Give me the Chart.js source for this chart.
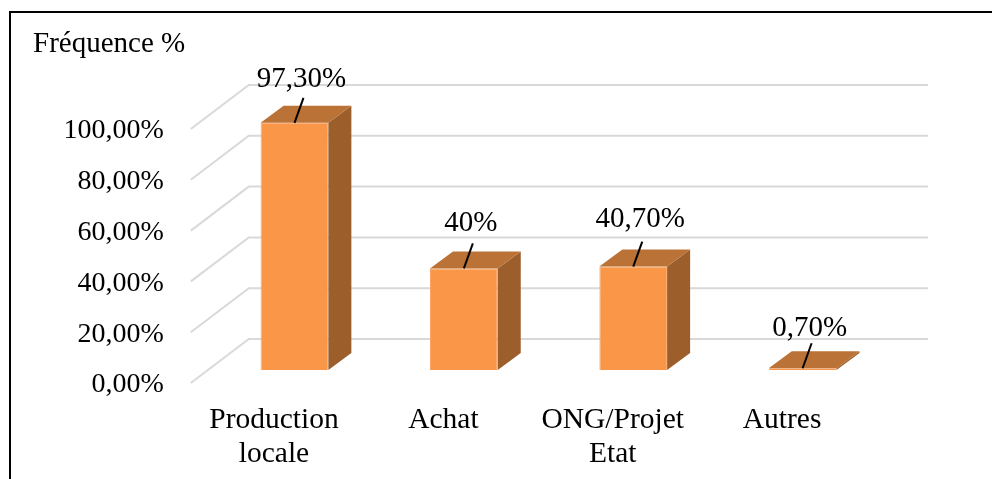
<!DOCTYPE html>
<html lang="fr">
<head>
    <meta charset="UTF-8">
    <title>Fréquence %</title>
    <style>
        html, body { margin: 0; padding: 0; background: #fff; }
        body { width: 992px; height: 479px; overflow: hidden; position: relative; }
        #frame {
            position: absolute;
            left: 9px; top: 11px;
            width: 990px; height: 480px;
            border-left: 2px solid #000;
            border-top: 2px solid #000;
        }
        #yTitle {
            position: absolute;
            left: 33px; top: 26px;
            font: 29px "Liberation Serif", serif;
            color: #000;
        }
        #chartBox { position: absolute; left: 0; top: 0; width: 992px; height: 479px; }
    </style>
</head>
<body>
<div id="frame"></div>
<div id="chartBox"><canvas id="myChart" width="992" height="479"></canvas></div>
<div id="yTitle">Fréquence %</div>

<script src="https://cdn.jsdelivr.net/npm/chart.js"></script>
<script>
    const categories = [['Production', 'locale'], 'Achat', ['ONG/Projet', 'Etat'], 'Autres'];
    const frequences = [97.3, 40, 40.7, 0.7];
    const valueLabels = ['97,30%', '40%', '40,70%', '0,70%'];
    const yTicks = [0, 20, 40, 60, 80, 100];

    const serif = '"Liberation Serif", serif';

    // extrusion of the bars, and of the chart floor behind / in front of them
    const barDepth = { x: 23, y: 17 };
    const wall = { x: 39, y: 31, right: 928 };
    const floorFront = { x: 19, y: 13 };
    // value labels were placed by hand in the original, so they don't sit evenly
    const labelGap = [43, 45, 47, 40];

    const fake3d = {
        id: 'fake3d',
        beforeDatasetsDraw(chart) {
            const ctx = chart.ctx;
            const y = chart.scales.y;
            const left = chart.scales.x.left;
            ctx.save();
            ctx.strokeStyle = '#d9d9d9';
            ctx.lineWidth = 2;
            yTicks.forEach(v => {
                const py = y.getPixelForValue(v);
                ctx.beginPath();
                ctx.moveTo(left - floorFront.x, py + floorFront.y);
                ctx.lineTo(left + wall.x, py - wall.y);
                ctx.lineTo(wall.right, py - wall.y);
                ctx.stroke();
            });
            ctx.restore();
        },
        afterDatasetsDraw(chart) {
            const ctx = chart.ctx;
            const bars = chart.getDatasetMeta(0).data;
            ctx.save();
            bars.forEach((bar, i) => {
                const l = bar.x - bar.width / 2;
                const r = bar.x + bar.width / 2;
                // side
                ctx.fillStyle = '#9c5f2c';
                ctx.beginPath();
                ctx.moveTo(r, bar.y);
                ctx.lineTo(r + barDepth.x, bar.y - barDepth.y);
                ctx.lineTo(r + barDepth.x, bar.base - barDepth.y);
                ctx.lineTo(r, bar.base);
                ctx.closePath();
                ctx.fill();
                // top
                ctx.fillStyle = '#bb7236';
                ctx.beginPath();
                ctx.moveTo(l, bar.y);
                ctx.lineTo(l + barDepth.x, bar.y - barDepth.y);
                ctx.lineTo(r + barDepth.x, bar.y - barDepth.y);
                ctx.lineTo(r, bar.y);
                ctx.closePath();
                ctx.fill();
                // leader line + value
                ctx.strokeStyle = '#000';
                ctx.lineWidth = 2;
                ctx.beginPath();
                ctx.moveTo(bar.x, bar.y);
                ctx.lineTo(bar.x + 9, bar.y - 25);
                ctx.stroke();
                ctx.fillStyle = '#000';
                ctx.font = '29px ' + serif;
                ctx.textAlign = 'center';
                ctx.textBaseline = 'middle';
                ctx.fillText(valueLabels[i], bar.x + 7, bar.y - labelGap[i]);
            });
            ctx.restore();
        }
    };

    new Chart(document.getElementById('myChart'), {
        type: 'bar',
        data: {
            labels: categories,
            datasets: [{
                label: 'Fréquence %',
                data: frequences,
                backgroundColor: '#fa9648',
                borderColor: '#fba566',
                borderWidth: 1,
                categoryPercentage: 1,
                barPercentage: 0.4
            }]
        },
        options: {
            responsive: false,
            animation: false,
            layout: { padding: { top: 116, right: 104.7, left: 0, bottom: 0 } },
            plugins: { legend: { display: false }, tooltip: { enabled: false } },
            scales: {
                x: {
                    grid: { display: false },
                    border: { display: false },
                    afterFit(s) { s.height = 109; },
                    ticks: {
                        color: '#000',
                        font: { family: serif, size: 29.5, lineHeight: 1.15 },
                        padding: 25,
                        labelOffset: -20.5,
                        maxRotation: 0,
                        autoSkip: false
                    }
                },
                y: {
                    min: 0,
                    max: 100,
                    grid: { display: false, drawTicks: false },
                    border: { display: false },
                    afterFit(s) { s.width = 209.8; },
                    afterBuildTicks(s) { s.ticks = yTicks.map(v => ({ value: v })); },
                    ticks: {
                        color: '#000',
                        font: { family: serif, size: 28 },
                        padding: 46,
                        labelOffset: 15,
                        callback: v => v.toFixed(2).replace('.', ',') + '%'
                    }
                }
            }
        },
        plugins: [fake3d]
    });
</script>
</body>
</html>
